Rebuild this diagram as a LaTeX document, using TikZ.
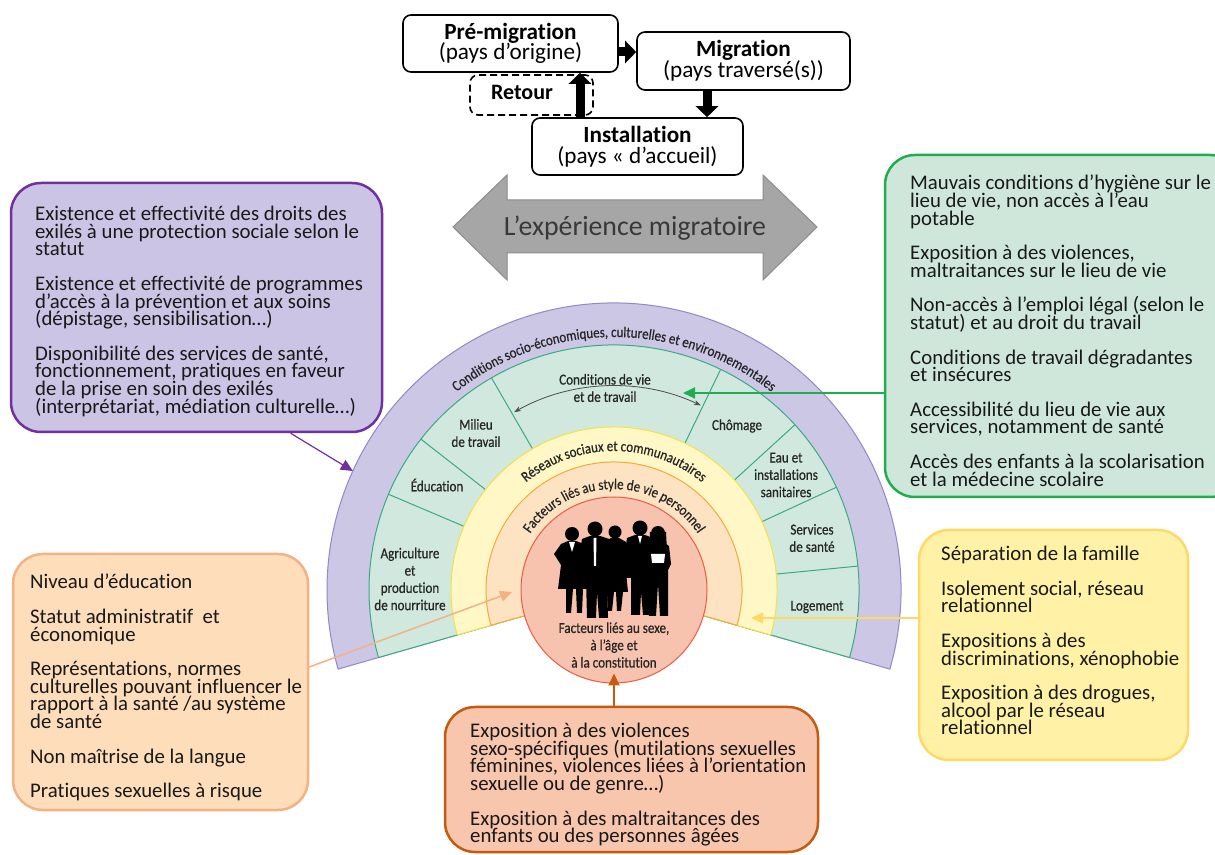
\documentclass[tikz,border=0pt]{standalone}
\usepackage{fontspec}
\setmainfont{Carlito}[Ligatures=NoCommon]
\newfontfamily\sectorfont[FakeStretch=0.86, FakeBold=0.6, Ligatures=NoCommon]{Carlito}
\usetikzlibrary{arrows.meta,calc,decorations.text}
\definecolor{ringlilac}{HTML}{CDC7E6}
\definecolor{ringlilacline}{HTML}{9486C8}
\definecolor{ringmint}{HTML}{D0E8DE}
\definecolor{ringmintline}{HTML}{3BAA84}
\definecolor{ringlemon}{HTML}{FFF8C6}
\definecolor{ringlemonline}{HTML}{F6E04A}
\definecolor{ringapricot}{HTML}{FDE3C2}
\definecolor{ringapricotline}{HTML}{F3A93A}
\definecolor{coresalmon}{HTML}{F8C3AE}
\definecolor{coresalmonline}{HTML}{EA5B45}
\definecolor{boxlilac}{HTML}{CCC4E4}
\definecolor{lilacedge}{HTML}{7030A0}
\definecolor{boxmint}{HTML}{CFE7DB}
\definecolor{mintedge}{HTML}{1FAE4E}
\definecolor{boxapricot}{HTML}{FDDDBA}
\definecolor{apricotedge}{HTML}{F4B183}
\definecolor{boxsalmon}{HTML}{F8C5AD}
\definecolor{salmonedge}{HTML}{C55A11}
\definecolor{boxlemon}{HTML}{FFF2A6}
\definecolor{lemonedge}{HTML}{FFD966}
\definecolor{arrowgray}{HTML}{A6A6A6}
\definecolor{arrowgrayline}{HTML}{8C8C8C}
\newcommand{\ringfont}{\sectorfont\fontsize{15}{15}\selectfont}
\newcommand{\tightlines}{\setlength{\lineskiplimit}{-50pt}}
\tikzset{
  flowbox/.style={draw, line width=1.6pt, rounded corners=8pt, fill=white, align=center,
    font=\fontsize{23.2}{20.6}\selectfont\tightlines},
  bigarrow/.style={line width=9pt, -{Triangle[length=11pt,width=22pt]}},
  infobox/.style={rounded corners=30pt, line width=2.5pt, inner sep=0pt},
  infotext/.style={anchor=north west, inner sep=0pt, align=left, text=black!90,
    font=\fontsize{20.8}{17.6}\selectfont\tightlines},
  sectorlabel/.style={align=center, inner sep=0pt, text=black!85,
    font=\sectorfont\fontsize{15.2}{17.3}\selectfont\tightlines},
  divider/.style={draw=ringmintline, line width=1pt},
  curvearrow/.style={draw=black!70, line width=0.8pt,
    {Stealth[length=7pt,width=5pt]}-{Stealth[length=7pt,width=5pt]}},
  linkarrow/.style={-{Triangle[length=12pt,width=11pt]}}
}
\begin{document}
\begin{tikzpicture}[x=1pt,y=1pt]
\useasboundingbox (0,0) rectangle (1215,854);
\fill[white] (0,0) rectangle (1215,854);
% Drawing the migration steps
\node[flowbox, minimum width=215, minimum height=57] (pre) at (510.5,810.5) {\textbf{Pré-migration}\\(pays d’origine)};
\node[flowbox, minimum width=213, minimum height=58] (mig) at (743.5,793) {\textbf{Migration}\\(pays traversé(s))};
\node[flowbox, minimum width=211, minimum height=57] (inst) at (637.5,707.5) {\textbf{Installation}\\(pays « d’accueil)};
\node[flowbox, dash pattern=on 7pt off 4pt, minimum width=123, minimum height=40] (retour) at (531.5,759) {};
\node[font=\fontsize{22}{22}\selectfont\bfseries] (retourlbl) at ($(retour.center)+(-9.5,3)$) {Retour};
\coordinate (prearrow) at ([yshift=-8.5pt]pre.east);
\draw[bigarrow] (prearrow) -- (prearrow -| mig.west);
\coordinate (migdown) at ($(mig.south)+(-36.5,0)$);
\draw[bigarrow] (migdown) -- (migdown |- inst.north);
\coordinate (instup) at ($(inst.north)+(-57.5,0)$);
\draw[bigarrow] (instup) -- (instup |- pre.south);
% Grey double arrow
\filldraw[fill=arrowgray, draw=arrowgrayline, line width=1pt] (453,627) -- (507,679) -- (507,654) -- (763,654) -- (763,679) -- (817,627) -- (763,574) -- (763,601) -- (507,601) -- (507,574) -- cycle;
\node[font=\fontsize{27.8}{27.8}\selectfont, text=black!78] (expmig) at (635,626) {L’expérience migratoire};
% Drawing the boxes
\node[infobox, draw=lilacedge, fill=boxlilac, minimum width=371, minimum height=249] (rights) at (196.5,546.5) {};
\node[infotext] (rightstxt) at (35,648) {Existence et effectivité des droits des\\
exilés à une protection sociale selon le\\
statut\\[17pt]
Existence et effectivité de programmes\\
d’accès à la prévention et aux soins\\
(dépistage, sensibilisation…)\\[17pt]
Disponibilité des services de santé,\\
fonctionnement, pratiques en faveur\\
de la prise en soin des exilés\\
(interprétariat, médiation culturelle…)};
\node[infobox, draw=mintedge, fill=boxmint, minimum width=355, minimum height=342] (hyg) at (1062.5,528) {};
\node[infotext] (hygtxt) at (910,679) {Mauvais conditions d’hygiène sur le\\
lieu de vie, non accès à l’eau\\
potable\\[17pt]
Exposition à des violences,\\
maltraitances sur le lieu de vie\\[17pt]
Non-accès à l’emploi légal (selon le\\
statut) et au droit du travail\\[17pt]
Conditions de travail dégradantes\\
et insécures\\[17pt]
Accessibilité du lieu de vie aux\\
services, notamment de santé\\[17pt]
Accès des enfants à la scolarisation\\
et la médecine scolaire};
\node[infobox, draw=apricotedge, fill=boxapricot, minimum width=295, minimum height=256] (edu) at (160.5,172) {};
\node[infotext] (edutxt) at (30,280) {Niveau d’éducation\\[17pt]
Statut administratif\ \ et\\
économique\\[17pt]
Représentations, normes\\
culturelles pouvant influencer le\\
rapport à la santé /au système\\
de santé\\[17pt]
Non maîtrise de la langue\\[17pt]
Pratiques sexuelles à risque};
\node[infobox, draw=salmonedge, fill=boxsalmon, minimum width=373, minimum height=145] (viol) at (631.5,74.5) {};
\node[infotext] (violtxt) at (470,131) {Exposition à des violences\\
sexo-spécifiques (mutilations sexuelles\\
féminines, violences liées à l’orientation\\
sexuelle ou de genre…)\\[17pt]
Exposition à des maltraitances des\\
enfants ou des personnes âgées};
\node[infobox, draw=lemonedge, fill=boxlemon, minimum width=269, minimum height=230] (fam) at (1053.5,209) {};
\node[infotext] (famtxt) at (941,308) {Séparation de la famille\\[17pt]
Isolement social, réseau\\
relationnel\\[17pt]
Expositions à des\\
discriminations, xénophobie\\[17pt]
Exposition à des drogues,\\
alcool par le réseau\\
relationnel};
% Drawing the rings
\coordinate (C) at (614,264);
\filldraw[fill=ringlilac, draw=ringlilacline, line width=1pt] (C) -- ++(-16:287) arc[start angle=-16, end angle=196, radius=287] -- cycle;
\filldraw[fill=ringmint, draw=ringmintline, line width=1pt] (C) -- ++(-16:245) arc[start angle=-16, end angle=196, radius=245] -- cycle;
\foreach \a in {157,142,120,64.2,42.4,24.8,5.6}
  \draw[divider] ($(C)+(\a:163)$) -- ($(C)+(\a:245)$);
\filldraw[fill=ringlemon, draw=ringlemonline, line width=1pt] (C) -- ++(-16:163) arc[start angle=-16, end angle=196, radius=163] -- cycle;
\filldraw[fill=ringapricot, draw=ringapricotline, line width=1pt] (C) -- ++(-16:128) arc[start angle=-16, end angle=196, radius=128] -- cycle;
\node[circle, minimum size=186, inner sep=0pt, fill=coresalmon, draw=coresalmonline, line width=1pt] (core) at (C) {};
% Ring titles
\path[decorate, decoration={text along path, text align=center,
  text={|\ringfont\color{black!85}|Conditions socio-économiques, culturelles et environnementales}}]
  ($(C)+(178:253)$) arc[start angle=178, end angle=2, radius=253];
\path[decorate, decoration={text along path, text align=center,
  text={|\ringfont\color{black!85}|Réseaux sociaux et communautaires}}]
  ($(C)+(178:139)$) arc[start angle=178, end angle=2, radius=139];
\path[decorate, decoration={text along path, text align=center,
  text={|\ringfont\color{black!85}|Facteurs liés au style de vie personnel}}]
  ($(C)+(178:101)$) arc[start angle=178, end angle=2, radius=101];
% Sector labels
\node[sectorlabel] (agri) at (410,275) {Agriculture\\et\\production\\de nourriture};
\node[sectorlabel] (educ) at (437,369) {Éducation};
\node[sectorlabel] (milieu) at (476,421) {Milieu\\de travail};
\node[sectorlabel] (condvie) at (605,466) {Conditions de vie\\et de travail};
\node[sectorlabel] (chomage) at (737,428) {Chômage};
\node[sectorlabel] (eau) at (786,379) {Eau et\\installations\\sanitaires};
\node[sectorlabel] (services) at (812,316) {Services\\de santé};
\node[sectorlabel] (logement) at (817,247) {Logement};
\node[sectorlabel] (coretxt) at (614,209) {Facteurs liés au sexe,\\à l’âge et\\à la constitution};
\coordinate (cvleft) at ($(C)+(119.3:204)$);
\draw[curvearrow] (cvleft) arc[start angle=119.3, end angle=64.8, radius=204];
% People
\fill[black] (572,320) circle(7);
\fill[black] (568,313) -- (561,310) -- (554,300) -- (561,289) -- (558,265) -- (566,265) -- (566,241) -- (571,241) -- (573,265) -- (576,265) -- (577,241) -- (582,241) -- (583,265) -- (589,265) -- (585,289) -- (588,305) -- (584,310) -- (576,313) -- cycle;
\fill[white] (569,312) -- (575,312) -- (572,302) -- cycle;
\fill[black] (615,322) circle(6.5);
\fill[black] (611,316) -- (603,312) -- (601,292) -- (604,282) -- (602,262) -- (607,262) -- (608,243) -- (612,243) -- (614,262) -- (616,262) -- (617,243) -- (621,243) -- (623,262) -- (628,262) -- (626,282) -- (629,292) -- (626,312) -- (619,316) -- cycle;
\fill[black] (595,325) circle(7.5);
\fill[black] (590,318) -- (582,315) -- (579,295) -- (580,276) -- (586,276) -- (587,236) -- (596,236) -- (597,262) -- (599,236) -- (608,236) -- (607,276) -- (612,276) -- (611,295) -- (609,315) -- (600,318) -- cycle;
\fill[white] (593.5,316) -- (596.5,316) -- (596,288) -- (594,288) -- cycle;
\fill[black] (640,326) circle(7.5);
\fill[black] (635,319) -- (627,316) -- (624,295) -- (626,276) -- (631,276) -- (631,239) -- (640,239) -- (641,262) -- (643,239) -- (652,239) -- (651,276) -- (655,276) -- (656,295) -- (653,316) -- (645,319) -- cycle;
\fill[white] (638,318) -- (642,318) -- (640,310) -- cycle;
\fill[black] (658,321) circle(7);
\fill[black] (650,322) -- (649,303) -- (667,303) -- (666,322) -- cycle;
\fill[black] (653,312) -- (646,308) -- (644,290) -- (648,284) -- (649,238) -- (656,238) -- (658,270) -- (660,238) -- (668,238) -- (668,284) -- (671,290) -- (669,308) -- (663,312) -- cycle;
\fill[white] (651,300) -- (665,300) -- (664,291) -- (652,291) -- cycle;
% Links from the boxes to the rings
\coordinate (purpletip) at ($(C)+(155.5:287)$);
\draw[linkarrow, lilacedge, line width=1.2pt] ($(rights.south west)!0.752!(rights.south east)$) -- (purpletip);
\coordinate (greentip) at (683,461);
\draw[linkarrow, mintedge, line width=1.8pt] (greentip -| hyg.west) -- (greentip);
\coordinate (lemontip) at (751,236);
\draw[linkarrow, lemonedge, line width=1.5pt] (lemontip -| fam.west) -- (lemontip);
\coordinate (apricottip) at (512,262);
\draw[linkarrow, apricotedge, line width=1.5pt] ([yshift=15pt]edu.east) -- (apricottip);
\draw[linkarrow, salmonedge, line width=2pt] (core.south |- viol.north) -- ([yshift=10pt]core.south);
\end{tikzpicture}
\end{document}
